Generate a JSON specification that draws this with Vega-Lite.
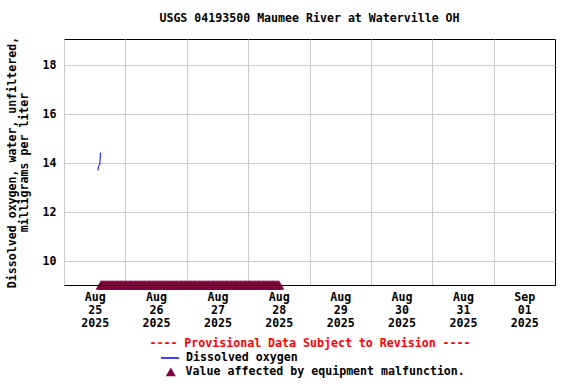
{
  "$schema": "https://vega.github.io/schema/vega-lite/v6.json",
  "width": 491,
  "height": 246,
  "autosize": "none",
  "padding": {"left": 64, "top": 39, "right": 21, "bottom": 99},
  "background": "white",
  "config": {
    "font": "DejaVu Sans Mono",
    "view": {"stroke": "black", "strokeWidth": 1},
    "axis": {
      "labelFont": "DejaVu Sans Mono", "labelFontSize": 11.6, "labelFontWeight": "bold", "labelColor": "black",
      "titleFont": "DejaVu Sans Mono", "titleFontSize": 11.6, "titleFontWeight": "bold", "titleColor": "black",
      "gridColor": "#cccccc", "gridOpacity": 1, "gridWidth": 1, "ticks": false, "domain": false
    },
    "legend": {
      "labelFont": "DejaVu Sans Mono", "labelFontSize": 11.6, "labelFontWeight": "bold", "labelColor": "black",
      "padding": 0, "rowPadding": 0, "labelLimit": 0
    }
  },
  "title": {
    "text": "USGS 04193500 Maumee River at Waterville OH",
    "font": "DejaVu Sans Mono", "fontSize": 11.6, "fontWeight": "bold", "color": "black",
    "anchor": "middle", "offset": 12
  },
  "resolve": {"axis": {"x": "independent"}},
  "datasets": {
    "do": [
      {"t": "2025-08-25T13:15", "v": 13.70, "s": "Dissolved oxygen"},
      {"t": "2025-08-25T13:30", "v": 13.88, "s": "Dissolved oxygen"},
      {"t": "2025-08-25T13:45", "v": 13.92, "s": "Dissolved oxygen"},
      {"t": "2025-08-25T14:00", "v": 13.93, "s": "Dissolved oxygen"},
      {"t": "2025-08-25T14:15", "v": 14.43, "s": "Dissolved oxygen"}
    ],
    "flag": [
      {"t": "2025-08-25T14:30"}, {"t": "2025-08-25T15:00"}, {"t": "2025-08-25T15:30"}, {"t": "2025-08-25T16:00"},
      {"t": "2025-08-25T16:30"}, {"t": "2025-08-25T17:00"}, {"t": "2025-08-25T17:30"}, {"t": "2025-08-25T18:00"},
      {"t": "2025-08-25T18:30"}, {"t": "2025-08-25T19:00"}, {"t": "2025-08-25T19:30"}, {"t": "2025-08-25T20:00"},
      {"t": "2025-08-25T20:30"}, {"t": "2025-08-25T21:00"}, {"t": "2025-08-25T21:30"}, {"t": "2025-08-25T22:00"},
      {"t": "2025-08-25T22:30"}, {"t": "2025-08-25T23:00"}, {"t": "2025-08-25T23:30"},
      {"t": "2025-08-26T00:00"}, {"t": "2025-08-26T00:30"}, {"t": "2025-08-26T01:00"}, {"t": "2025-08-26T01:30"},
      {"t": "2025-08-26T02:00"}, {"t": "2025-08-26T02:30"}, {"t": "2025-08-26T03:00"}, {"t": "2025-08-26T03:30"},
      {"t": "2025-08-26T04:00"}, {"t": "2025-08-26T04:30"}, {"t": "2025-08-26T05:00"}, {"t": "2025-08-26T05:30"},
      {"t": "2025-08-26T06:00"}, {"t": "2025-08-26T06:30"}, {"t": "2025-08-26T07:00"}, {"t": "2025-08-26T07:30"},
      {"t": "2025-08-26T08:00"}, {"t": "2025-08-26T08:30"}, {"t": "2025-08-26T09:00"}, {"t": "2025-08-26T09:30"},
      {"t": "2025-08-26T10:00"}, {"t": "2025-08-26T10:30"}, {"t": "2025-08-26T11:00"}, {"t": "2025-08-26T11:30"},
      {"t": "2025-08-26T12:00"}, {"t": "2025-08-26T12:30"}, {"t": "2025-08-26T13:00"}, {"t": "2025-08-26T13:30"},
      {"t": "2025-08-26T14:00"}, {"t": "2025-08-26T14:30"}, {"t": "2025-08-26T15:00"}, {"t": "2025-08-26T15:30"},
      {"t": "2025-08-26T16:00"}, {"t": "2025-08-26T16:30"}, {"t": "2025-08-26T17:00"}, {"t": "2025-08-26T17:30"},
      {"t": "2025-08-26T18:00"}, {"t": "2025-08-26T18:30"}, {"t": "2025-08-26T19:00"}, {"t": "2025-08-26T19:30"},
      {"t": "2025-08-26T20:00"}, {"t": "2025-08-26T20:30"}, {"t": "2025-08-26T21:00"}, {"t": "2025-08-26T21:30"},
      {"t": "2025-08-26T22:00"}, {"t": "2025-08-26T22:30"}, {"t": "2025-08-26T23:00"}, {"t": "2025-08-26T23:30"},
      {"t": "2025-08-27T00:00"}, {"t": "2025-08-27T00:30"}, {"t": "2025-08-27T01:00"}, {"t": "2025-08-27T01:30"},
      {"t": "2025-08-27T02:00"}, {"t": "2025-08-27T02:30"}, {"t": "2025-08-27T03:00"}, {"t": "2025-08-27T03:30"},
      {"t": "2025-08-27T04:00"}, {"t": "2025-08-27T04:30"}, {"t": "2025-08-27T05:00"}, {"t": "2025-08-27T05:30"},
      {"t": "2025-08-27T06:00"}, {"t": "2025-08-27T06:30"}, {"t": "2025-08-27T07:00"}, {"t": "2025-08-27T07:30"},
      {"t": "2025-08-27T08:00"}, {"t": "2025-08-27T08:30"}, {"t": "2025-08-27T09:00"}, {"t": "2025-08-27T09:30"},
      {"t": "2025-08-27T10:00"}, {"t": "2025-08-27T10:30"}, {"t": "2025-08-27T11:00"}, {"t": "2025-08-27T11:30"},
      {"t": "2025-08-27T12:00"}, {"t": "2025-08-27T12:30"}, {"t": "2025-08-27T13:00"}, {"t": "2025-08-27T13:30"},
      {"t": "2025-08-27T14:00"}, {"t": "2025-08-27T14:30"}, {"t": "2025-08-27T15:00"}, {"t": "2025-08-27T15:30"},
      {"t": "2025-08-27T16:00"}, {"t": "2025-08-27T16:30"}, {"t": "2025-08-27T17:00"}, {"t": "2025-08-27T17:30"},
      {"t": "2025-08-27T18:00"}, {"t": "2025-08-27T18:30"}, {"t": "2025-08-27T19:00"}, {"t": "2025-08-27T19:30"},
      {"t": "2025-08-27T20:00"}, {"t": "2025-08-27T20:30"}, {"t": "2025-08-27T21:00"}, {"t": "2025-08-27T21:30"},
      {"t": "2025-08-27T22:00"}, {"t": "2025-08-27T22:30"}, {"t": "2025-08-27T23:00"}, {"t": "2025-08-27T23:30"},
      {"t": "2025-08-28T00:00"}, {"t": "2025-08-28T00:30"}, {"t": "2025-08-28T01:00"}, {"t": "2025-08-28T01:30"},
      {"t": "2025-08-28T02:00"}, {"t": "2025-08-28T02:30"}, {"t": "2025-08-28T03:00"}, {"t": "2025-08-28T03:30"},
      {"t": "2025-08-28T04:00"}, {"t": "2025-08-28T04:30"}, {"t": "2025-08-28T05:00"}, {"t": "2025-08-28T05:30"},
      {"t": "2025-08-28T06:00"}, {"t": "2025-08-28T06:30"}, {"t": "2025-08-28T07:00"}, {"t": "2025-08-28T07:30"},
      {"t": "2025-08-28T08:00"}, {"t": "2025-08-28T08:30"}, {"t": "2025-08-28T09:00"}, {"t": "2025-08-28T09:30"},
      {"t": "2025-08-28T10:00"}, {"t": "2025-08-28T10:30"}, {"t": "2025-08-28T11:00"}, {"t": "2025-08-28T11:30"},
      {"t": "2025-08-28T12:00"}
    ]
  },
  "layer": [
    {
      "data": {"name": "flag"},
      "mark": {"type": "point", "shape": "triangle-up", "filled": true, "size": 100, "color": "#800040", "opacity": 1, "stroke": "#800040", "strokeWidth": 0.6},
      "encoding": {
        "x": {
          "field": "t", "type": "temporal",
          "scale": {"domain": [{"year": 2025, "month": 8, "date": 25}, {"year": 2025, "month": 9, "date": 2}]},
          "axis": {
            "orient": "bottom",
            "title": null,
            "labels": false,
            "grid": false,
            "domain": true,
            "domainColor": "black",
            "domainWidth": 1,
            "minExtent": 0,
            "maxExtent": 0,
            "zindex": 1
          }
        },
        "y": {"datum": 9.04, "type": "quantitative"},
        "shape": {
          "datum": "Value affected by equipment malfunction.",
          "scale": {"range": ["triangle-up"]},
          "legend": {
            "orient": "none", "legendX": 101, "legendY": 327, "title": null,
            "symbolFillColor": "#800040", "symbolStrokeColor": "#800040", "symbolStrokeWidth": 0,
            "symbolSize": 100, "labelOffset": 9, "padding": 0
          }
        }
      }
    },
    {
      "data": {"name": "do"},
      "mark": {"type": "line", "strokeWidth": 1},
      "encoding": {
        "x": {
          "field": "t", "type": "temporal",
          "axis": {
            "orient": "bottom",
            "title": "---- Provisional Data Subject to Revision ----",
            "titleColor": "red",
            "values": [
              {"year": 2025, "month": 8, "date": 25}, {"year": 2025, "month": 8, "date": 26},
              {"year": 2025, "month": 8, "date": 27}, {"year": 2025, "month": 8, "date": 28},
              {"year": 2025, "month": 8, "date": 29}, {"year": 2025, "month": 8, "date": 30},
              {"year": 2025, "month": 8, "date": 31}, {"year": 2025, "month": 9, "date": 1}
            ],
            "labelExpr": "[timeFormat(datum.value, '%b'), timeFormat(datum.value, '%d'), timeFormat(datum.value, '%Y')]",
            "labelOffset": 30.7,
            "labelAlign": "center",
            "labelBaseline": "top",
            "labelLineHeight": 13,
            "labelPadding": 6,
            "titlePadding": 9,
            "grid": true,
            "domain": false,
            "zindex": 0
          }
        },
        "y": {
          "field": "v", "type": "quantitative",
          "scale": {"domain": [9.04, 19.06], "nice": false, "zero": false},
          "axis": {
            "title": ["Dissolved oxygen, water, unfiltered,", "milligrams per liter"],
            "titleLineHeight": 12,
            "values": [10, 12, 14, 16, 18],
            "labelPadding": 8,
            "titlePadding": 13,
            "grid": true
          }
        },
        "color": {
          "field": "s",
          "type": "nominal",
          "scale": {"domain": ["Dissolved oxygen"], "range": ["#0000ff"]},
          "legend": {
            "orient": "none", "legendX": 96, "legendY": 309, "title": null,
            "symbolType": "stroke", "symbolSize": 324, "symbolStrokeWidth": 1.5,
            "symbolStrokeColor": "#0000ff",
            "labelOffset": 6, "padding": 0
          }
        }
      }
    }
  ]
}
